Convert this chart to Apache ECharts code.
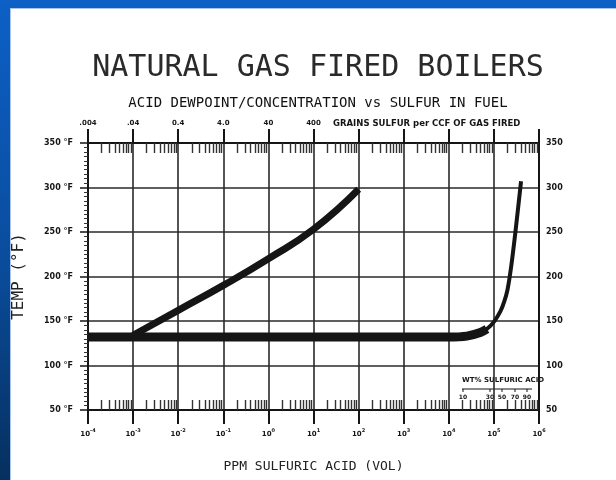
<!DOCTYPE html>
<html>
<head>
<meta charset="utf-8">
<script src="https://cdn.jsdelivr.net/npm/echarts@6/dist/echarts.min.js"></script>
<style>
html, body { margin: 0; padding: 0; }
#wrap { position: relative; width: 616px; height: 480px; overflow: hidden;
  background: linear-gradient(to bottom, #0c60c6 0%, #0a4c9c 55%, #06305e 100%); }
#panel { position: absolute; left: 10px; top: 8px; right: 0; bottom: 0; background: #fff;
  border-left: 1px solid #a8c4ea; border-top: 1px solid #a8c4ea; }
#main { position: absolute; left: 0; top: 0; width: 616px; height: 480px; }
</style>
</head>
<body>
<div id="wrap"><div id="panel"></div><div id="main"></div></div>
<script>
// 酸露点线 (ppm H2SO4, °F)
var dewPpm = [0.001, 0.01, 0.1, 1, 10, 100];
var dewTemp = [134, 162, 190, 220, 253, 298];
// 浓度曲线 - 平段 / 陡升段
var flatPpm = [0.0001, 10000, 25000, 50000, 70000];
var flatTemp = [132, 132, 133, 137, 141];
var risePpm = [50000, 70000, 100000, 140000, 170000, 200000, 240000, 300000, 400000];
var riseTemp = [137, 141, 149, 161, 172, 185, 210, 250, 307];

// 轴标签
var topLabels = ['.004', '.04', '0.4', '4.0', '40', '400'];
var wtLabels = ['10', '30', '50', '70', '90'];
var wtX = [463, 490, 502, 515, 527]; // 小标尺位置(像素)

function zip(xs, ys) {
    return xs.map(function(x, i) { return [x, ys[i]]; });
}

var ink = '#151515';
var lblFont = 'DejaVu Sans';
var mono = 'DejaVu Sans Mono';

var chart = echarts.init(document.getElementById('main'));

var logAxis = {
    type: 'log', logBase: 10, min: 0.0001, max: 1000000,
    axisLine: { show: true, lineStyle: { color: ink, width: 2 } }
};

var option = {
    animation: false,
    title: [
        { text: 'NATURAL GAS FIRED BOILERS', left: 313, top: 48, textAlign: 'center',
          textStyle: { fontFamily: mono, fontSize: 30, fontWeight: 'normal', color: '#2a2a2a' } },
        { text: 'ACID DEWPOINT/CONCENTRATION vs SULFUR IN FUEL', left: 313, top: 91, textAlign: 'center',
          textStyle: { fontFamily: mono, fontSize: 14, fontWeight: 'normal', color: '#111' } }
    ],
    grid: { left: 88, right: 77, top: 143, bottom: 70 },
    xAxis: [
        Object.assign({}, logAxis, {
            position: 'bottom',
            name: 'PPM SULFURIC ACID (VOL)', nameLocation: 'middle', nameGap: 50,
            nameTextStyle: { fontFamily: mono, fontSize: 13, color: '#222' },
            axisTick: { show: true, length: 14, lineStyle: { color: ink, width: 2 } },
            axisLabel: {
                margin: 18,
                formatter: function(v) {
                    var e = Math.round(Math.log10(v));
                    return '{b|10}{s|' + e + '}';
                },
                rich: {
                    b: { fontFamily: lblFont, fontSize: 7, fontWeight: 'bold', color: ink, lineHeight: 10, verticalAlign: 'bottom' },
                    s: { fontFamily: lblFont, fontSize: 5, fontWeight: 'bold', color: ink, lineHeight: 10, verticalAlign: 'top' }
                }
            },
            splitLine: { show: true, lineStyle: { color: '#2a2a2a', width: 1.6 } }
        }),
        Object.assign({}, logAxis, {
            position: 'top',
            axisTick: { show: true, length: 14, lineStyle: { color: ink, width: 2 } },
            axisLabel: {
                margin: 16, fontFamily: lblFont, fontSize: 7, fontWeight: 'bold', color: ink,
                formatter: function(v) {
                    var e = Math.round(Math.log10(v));
                    return topLabels[e + 4] || '';
                }
            },
            splitLine: { show: false }
        }),
        Object.assign({}, logAxis, {
            position: 'bottom',
            axisLine: { show: false },
            axisTick: { show: false, inside: true },
            minorTick: { show: true, splitNumber: 9, length: 10, lineStyle: { color: '#333', width: 1.4 } },
            axisLabel: { show: false },
            splitLine: { show: false }
        }),
        Object.assign({}, logAxis, {
            position: 'top',
            axisLine: { show: false },
            axisTick: { show: false, inside: true },
            minorTick: { show: true, splitNumber: 9, length: 10, lineStyle: { color: '#333', width: 1.4 } },
            axisLabel: { show: false },
            splitLine: { show: false }
        })
    ],
    yAxis: [
        {
            type: 'value', position: 'left', min: 50, max: 350, interval: 50,
            name: 'TEMP (°F)', nameLocation: 'middle', nameGap: 61, nameRotate: 90,
            nameTextStyle: { fontFamily: mono, fontSize: 16, color: '#222' },
            axisLine: { show: true, lineStyle: { color: ink, width: 2 } },
            axisTick: { show: true, length: 8, lineStyle: { color: ink, width: 1.5 } },
            minorTick: { show: true, splitNumber: 10, length: 4, lineStyle: { color: '#333', width: 1 } },
            axisLabel: { margin: 15, fontFamily: lblFont, fontSize: 8, fontWeight: 'bold', color: ink,
                formatter: '{value} °F' },
            splitLine: { show: true, lineStyle: { color: '#2a2a2a', width: 1.6 } }
        },
        {
            type: 'value', position: 'right', min: 50, max: 350, interval: 50,
            axisLine: { show: true, lineStyle: { color: ink, width: 2 } },
            axisTick: { show: false },
            axisLabel: { margin: 7, fontFamily: lblFont, fontSize: 8, fontWeight: 'bold', color: ink },
            splitLine: { show: false }
        }
    ],
    series: [
        { type: 'line', name: 'dewpoint', data: zip(dewPpm, dewTemp), smooth: 0.5,
          showSymbol: false, lineStyle: { color: ink, width: 7, join: 'round' } },
        { type: 'line', name: 'flat', data: zip(flatPpm, flatTemp), smooth: 0.3,
          showSymbol: false, lineStyle: { color: ink, width: 9 } },
        { type: 'line', name: 'rise', data: zip(risePpm, riseTemp), smooth: 0.3,
          showSymbol: false, lineStyle: { color: ink, width: 4, join: 'round' } }
    ],
    graphic: [
        { type: 'text', left: 333, top: 119,
          style: { text: 'GRAINS SULFUR per CCF OF GAS FIRED', font: 'bold 8.5px ' + lblFont, fill: ink } },
        { type: 'text', left: 462, top: 377,
          style: { text: 'WT% SULFURIC ACID', font: 'bold 7px ' + lblFont, fill: ink } },
        { type: 'line', shape: { x1: 462, y1: 389, x2: 532, y2: 389 }, style: { stroke: ink, lineWidth: 1 } }
    ].concat(wtX.map(function(x, i) {
        return { type: 'text', x: x, y: 397,
            style: { text: wtLabels[i], font: 'bold 6px ' + lblFont, fill: ink, align: 'center', verticalAlign: 'middle' } };
    })).concat(wtX.map(function(x) {
        return { type: 'line', shape: { x1: x, y1: 389, x2: x, y2: 392 }, style: { stroke: ink, lineWidth: 1 } };
    }))
};

chart.setOption(option);
</script>
</body>
</html>
